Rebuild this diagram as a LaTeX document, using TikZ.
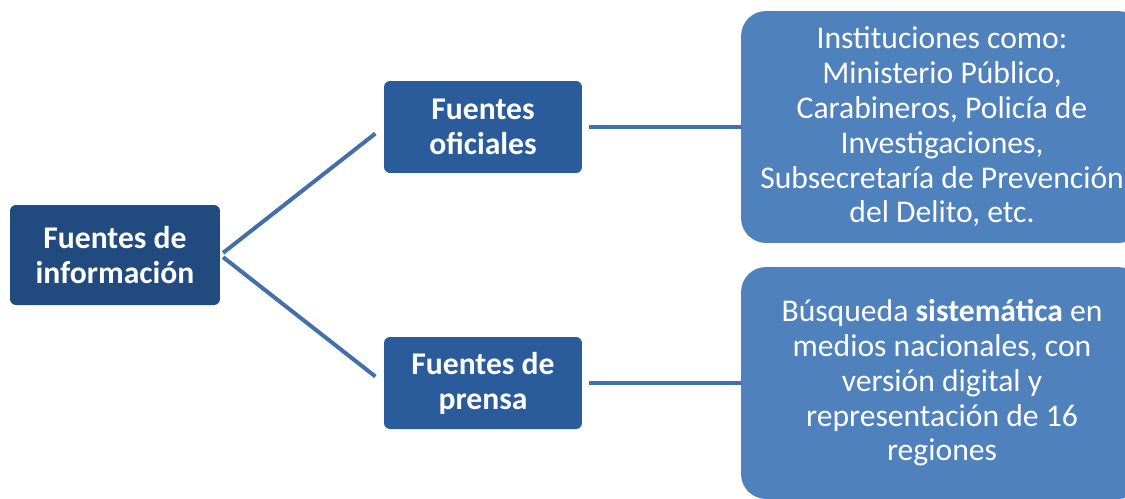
\documentclass[tikz,border=0pt]{standalone}
\usepackage{fontspec}
\setmainfont{Carlito}
\definecolor{rootblue}{HTML}{214A7E}
\definecolor{midblue}{HTML}{2A5B9B}
\definecolor{leafblue}{HTML}{4F81BD}
\definecolor{linkblue}{HTML}{4370A8}
\begin{document}
\begin{tikzpicture}[x=0.02cm,y=-0.02cm,
  root/.style={rectangle,rounded corners=0.12cm,fill=rootblue,text=white,font=\bfseries\fontsize{18}{19.8}\selectfont,align=center,minimum width=4.2cm,minimum height=2cm,inner sep=0pt},
  mid/.style={rectangle,rounded corners=0.12cm,fill=midblue,text=white,font=\bfseries\fontsize{18}{19.8}\selectfont,align=center,minimum width=3.96cm,minimum height=1.84cm,inner sep=0pt},
  leaf/.style={rectangle,rounded corners=0.5cm,fill=leafblue,text=white,font=\fontsize{18}{19.8}\selectfont,align=center,minimum width=8.04cm,minimum height=4.64cm,inner sep=0pt},
  link/.style={draw=linkblue,line width=0.08cm}]
       \useasboundingbox (0,0) rectangle (1125,498);
       \clip (0,0) rectangle (1125,498);
       \node[root] (fuentes) at (115, 255) {Fuentes de\\información};
       \node[mid] (oficiales) at (483, 127) {Fuentes\\oficiales};
       \node[mid] (prensa) at (483, 383) {Fuentes de\\prensa};
       \node[leaf] (instituciones) at (942, 127) {Instituciones como:\\Ministerio Público,\\Carabineros, Policía de\\Investigaciones,\\Subsecretaría de Prevención\\del Delito, etc.};
       \node[leaf] (busqueda) at (942, 383) {Búsqueda \textbf{sistemática} en\\medios nacionales, con\\versión digital y\\representación de 16\\regiones};

       \foreach \p in {oficiales,prensa}{\draw[link,shorten <=2pt,shorten >=6pt] (fuentes.east) -- (\p.west); }
       \draw[link,shorten <=4pt] (oficiales.east) -- (instituciones.west);
       \draw[link,shorten <=4pt] (prensa.east) -- (busqueda.west);
     \end{tikzpicture}
\end{document}
